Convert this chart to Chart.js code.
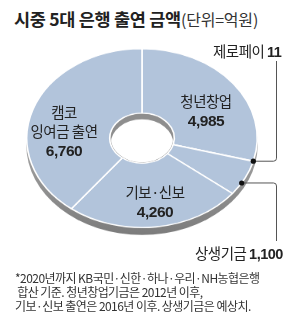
<!DOCTYPE html>
<html>
<head>
<meta charset="utf-8">
<script src="https://cdn.jsdelivr.net/npm/chart.js@4"></script>
<style>
  body { margin: 0; background: #fff; }
  #wrap { position: relative; width: 300px; height: 331px; overflow: hidden; background: #fff;
          font-family: "Noto Sans CJK KR", "Noto Sans", sans-serif; color: #222; }
  #title { position: absolute; left: 14px; top: 6px; font-size: 17.5px; font-weight: bold; letter-spacing: -0.3px; white-space: nowrap; }
  #title span { font-size: 16px; font-weight: normal; color: #333; letter-spacing: -0.2px; }
  #pieBox { position: absolute; left: 22px; top: 45px; width: 240px; height: 252px;
            transform: scaleY(0.776); transform-origin: 0 0; }
  #overlay { position: absolute; left: 0; top: 0; }
  .lbl { position: absolute; text-align: center; font-size: 14.5px; line-height: 19px; letter-spacing: -0.5px; white-space: nowrap; transform: translateX(-50%); }
  .lbl b { font-family: "Liberation Sans", Arial, sans-serif; font-size: 15.5px; letter-spacing: -0.5px; }
  .side { position: absolute; font-size: 14.5px; letter-spacing: -0.5px; white-space: nowrap; }
  .side b { font-family: "Liberation Sans", Arial, sans-serif; font-size: 14.5px; }
  #note { position: absolute; left: 15px; top: 271px; font-size: 12px; line-height: 13.8px; letter-spacing: -0.55px; color: #333; white-space: nowrap; }
</style>
</head>
<body>
<div id="wrap">
  <div id="title">시중 5대 은행 출연 금액<span>(단위=억원)</span></div>
  <div id="pieBox"><canvas id="pie" width="240" height="252"></canvas></div>
  <canvas id="overlay" width="300" height="331"></canvas>

  <div class="lbl" style="left:206px; top:91px;">청년창업<br><b>4,985</b></div>
  <div class="lbl" style="left:64px; top:102px;">캠코<br>잉여금 출연<br><b>6,760</b></div>
  <div class="lbl" style="left:155px; top:182px;">기보·신보<br><b>4,260</b></div>
  <div class="side" style="left:213px; top:40px;">제로페이 <b>11</b></div>
  <div class="side" style="left:195px; top:242px;">상생기금 <b>1,100</b></div>

  <div id="note">*2020년까지 KB국민·신한·하나·우리·NH농협은행<br>&nbsp;합산 기준. 청년창업기금은 2012년 이후,<br>기보·신보 출연은 2016년 이후. 상생기금은 예상치.</div>
</div>

<script>
// data (억원), clockwise from 12 o'clock
const categories = ['청년창업', '제로페이', '상생기금', '기보·신보', '캠코 잉여금 출연'];
const amounts = [4985, 11, 1100, 4260, 6760];

const sliceColor = 'rgb(178, 196, 219)';
const sideGrey = '#8e8e8e';
const tilt = 0.776;
const boxLeft = 22, boxTop = 45;

// grey side of the disc and the inner wall of the hole
const depthPlugin = {
    id: 'depth',
    beforeDatasetsDraw(chart) {
        const arc = chart.getDatasetMeta(0).data[0];
        const ctx = chart.ctx;
        ctx.save();
        const g = ctx.createLinearGradient(0, arc.y, 0, arc.y + arc.outerRadius + 10);
        g.addColorStop(0, '#a6a6a6');
        g.addColorStop(1, '#7c7c7c');
        ctx.fillStyle = g;
        ctx.beginPath();
        ctx.arc(arc.x, arc.y + 9, arc.outerRadius + 0.5, 0, Math.PI * 2);
        ctx.fill();
        ctx.restore();
    },
    afterDatasetsDraw(chart) {
        const arc = chart.getDatasetMeta(0).data[0];
        const ctx = chart.ctx;
        const r = arc.innerRadius - 1;
        ctx.save();
        ctx.beginPath();
        ctx.arc(arc.x, arc.y, r, 0, Math.PI * 2);
        ctx.clip();
        ctx.fillStyle = sideGrey;
        ctx.fillRect(arc.x - r, arc.y - r, r * 2, r * 2);
        ctx.fillStyle = '#fff';
        ctx.beginPath();
        ctx.arc(arc.x, arc.y + 7, r, 0, Math.PI * 2);
        ctx.fill();
        ctx.restore();
    }
};

const chart = new Chart(document.getElementById('pie'), {
    type: 'doughnut',
    data: {
        labels: categories,
        datasets: [{
            data: amounts,
            backgroundColor: sliceColor,
            borderColor: '#fff',
            borderWidth: 1.6
        }]
    },
    options: {
        responsive: false,
        animation: false,
        events: [],
        cutout: '28%',
        layout: { padding: { left: 4, right: 4, top: 4, bottom: 16 } },
        plugins: { legend: { display: false }, tooltip: { enabled: false } }
    },
    plugins: [depthPlugin]
});

// leader lines for the two small slices, positioned from the arc elements
function edgePoint(index, frac) {
    const arc = chart.getDatasetMeta(0).data[index];
    const a = arc.startAngle + (arc.endAngle - arc.startAngle) * frac;
    const r = arc.outerRadius;
    return { x: boxLeft + arc.x + r * Math.cos(a), y: boxTop + (arc.y + r * Math.sin(a)) * tilt };
}

const oc = document.getElementById('overlay').getContext('2d');
oc.strokeStyle = '#555';
oc.lineWidth = 1;
function leader(p, xTurn, yEnd) {
    const dir = yEnd < p.y ? -1 : 1;
    oc.beginPath();
    oc.moveTo(p.x, p.y);
    oc.lineTo(xTurn - 3, p.y);
    oc.quadraticCurveTo(xTurn, p.y, xTurn, p.y + 3 * dir);
    oc.lineTo(xTurn, yEnd);
    oc.stroke();
    oc.fillStyle = '#111';
    oc.beginPath();
    oc.arc(p.x, p.y, 2.6, 0, Math.PI * 2);
    oc.fill();
}
leader(edgePoint(1, 0.5), 276.5, 61);
leader(edgePoint(2, 0.65), 276.5, 241);
</script>
</body>
</html>
